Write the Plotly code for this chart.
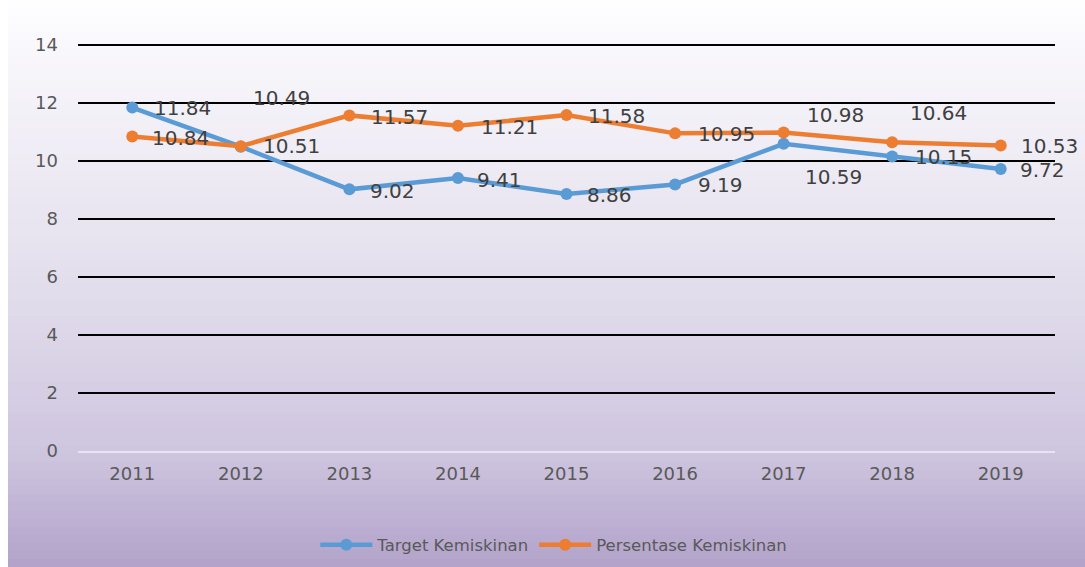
import plotly.graph_objects as go

years = ["2011", "2012", "2013", "2014", "2015", "2016", "2017", "2018", "2019"]
target = [11.84, 10.49, 9.02, 9.41, 8.86, 9.19, 10.59, 10.15, 9.72]
persentase = [10.84, 10.51, 11.57, 11.21, 11.58, 10.95, 10.98, 10.64, 10.53]
y_ticks = [0, 2, 4, 6, 8, 10, 12, 14]

# label pixel offsets (dx, dy upward)
target_off = [(50, 0), (41, 49), (43, -2), (42, -2), (43, -1), (45, -1), (50, -33), (51, 0), (42, -1)]
pers_off = [(48, -1), (51, 0), (50, -2), (52, -1), (50, -1), (51, -1), (52, 18), (46, 29), (49, 0)]

BLUE = "#5B9BD5"
ORANGE = "#ED7D31"
FONT = "DejaVu Sans"

W, H = 1085, 567
L, R, T, B = 78, 30, 42, 116
pw, ph = W - L - R, H - T - B

fig = go.Figure()
fig.add_trace(go.Scatter(x=years, y=target, mode="lines+markers", name="Target Kemiskinan",
                         line=dict(color=BLUE, width=4.5), marker=dict(size=12, color=BLUE)))
fig.add_trace(go.Scatter(x=years, y=persentase, mode="lines+markers", name="Persentase Kemiskinan",
                         line=dict(color=ORANGE, width=4.5), marker=dict(size=12, color=ORANGE)))

ann = []
for vals, offs in ((target, target_off), (persentase, pers_off)):
    for i, (v, (dx, dy)) in enumerate(zip(vals, offs)):
        ann.append(dict(x=i, y=v, xref="x", yref="y", text=f"{v:.2f}", showarrow=False,
                        xshift=dx, yshift=dy, font=dict(size=20, color="#404040", family=FONT)))

# background gradient
stops = [(0.0, (254, 254, 255)), (0.08, (249, 248, 252)), (0.5, (227, 222, 236)),
         (0.8, (206, 197, 223)), (1.0, (178, 162, 202))]

def col(t):
    for (t0, c0), (t1, c1) in zip(stops, stops[1:]):
        if t <= t1:
            f = (t - t0) / (t1 - t0) if t1 > t0 else 0
            return "rgb(%d,%d,%d)" % tuple(round(a + (b - a) * f) for a, b in zip(c0, c1))
    return "rgb(%d,%d,%d)" % stops[-1][1]

shapes = []
N = 70
x_left = (8 - L) / pw
x_right = 1 + R / pw
for i in range(N):
    py0 = i * H / N
    py1 = (i + 1) * H / N + 1
    y0 = (H - B - py0) / ph
    y1 = (H - B - py1) / ph
    shapes.append(dict(type="rect", xref="paper", yref="paper", x0=x_left, x1=x_right,
                       y0=y1, y1=y0, fillcolor=col((i + 0.5) / N), line=dict(width=0), layer="below"))

fig.update_layout(
    width=W, height=H,
    margin=dict(l=L, r=R, t=T, b=B, autoexpand=False),
    paper_bgcolor="white", plot_bgcolor="rgba(0,0,0,0)",
    shapes=shapes, annotations=ann,
    font=dict(family=FONT, color="#595959"),
    xaxis=dict(type="category", range=[-0.5, 8.5], showgrid=False, showline=True,
               linecolor="#E8E5F0", linewidth=1.5, ticks="", tickfont=dict(size=18, color="#595959"),
               zeroline=False, ticklabelstandoff=6),
    yaxis=dict(range=[0, 14.1], tickvals=y_ticks, showgrid=True, gridcolor="black", gridwidth=1.5,
               zeroline=False, showline=False, ticks="", tickfont=dict(size=18, color="#595959"),
               ticklabelstandoff=19),
    legend=dict(orientation="h", x=0.487, xanchor="center", y=-0.23, yanchor="middle",
                font=dict(size=16.5, color="#595959"), bgcolor="rgba(0,0,0,0)", itemwidth=52),
    showlegend=True,
)
fig.write_html("out.html", config={"displayModeBar": False},
               post_script="document.body.style.margin='0';document.body.style.overflow='hidden';")
